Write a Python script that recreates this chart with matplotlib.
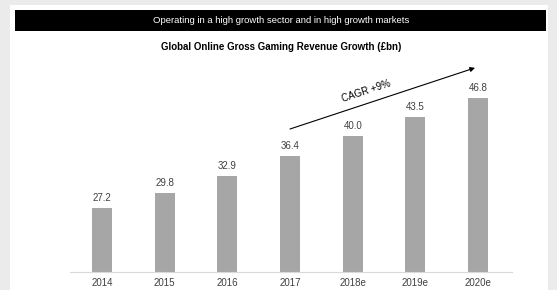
import matplotlib.pyplot as plt
from matplotlib.patches import Rectangle

plt.rcParams['font.family'] = ['Liberation Sans', 'DejaVu Sans']

# revenue (GBP bn) per year, e = estimate
years = ['2014', '2015', '2016', '2017', '2018e', '2019e', '2020e']
revenue = [27.2, 29.8, 32.9, 36.4, 40.0, 43.5, 46.8]
labels = ['27.2', '29.8', '32.9', '36.4', '40.0', '43.5', '46.8']

fig = plt.figure(figsize=(5.57, 2.9), dpi=100)
fig.patch.set_facecolor('#ebebeb')

# white panel and black header band
fig.patches.append(Rectangle((10 / 557, 0), 538 / 557, 285 / 290,
                             transform=fig.transFigure, facecolor='white',
                             edgecolor='none', zorder=-2))
fig.patches.append(Rectangle((15 / 557, 1 - 31 / 290), 531 / 557, 21 / 290,
                             transform=fig.transFigure, facecolor='black',
                             edgecolor='none', zorder=-1))
fig.text(281 / 557, 1 - 20.5 / 290, 'Operating in a high growth sector and in high growth markets',
         color='white', fontsize=6.8, ha='center', va='center')
fig.text(281 / 557, 1 - 47 / 290, 'Global Online Gross Gaming Revenue Growth (£bn)',
         color='black', fontsize=7.0, fontweight='bold', ha='center', va='center')

ax = fig.add_axes([70 / 557, 1 - 272 / 290, 442 / 557, 212 / 290])
ax.set_facecolor('none')
x = list(range(len(years)))
ax.bar(x, revenue, width=0.32, color='#a6a6a6', zorder=2)
for xi, v, lab in zip(x, revenue, labels):
    ax.text(xi, v + 0.9, lab, ha='center', va='bottom', fontsize=7, color='#404040')

ax.set_xlim(-0.51, 6.54)
ax.set_ylim(15.8, 53.6)
ax.set_xticks(x)
ax.set_xticklabels(years, fontsize=7, color='#404040')
ax.tick_params(axis='x', length=0, pad=4)
ax.set_yticks([])
for s in ['top', 'right', 'left']:
    ax.spines[s].set_visible(False)
ax.spines['bottom'].set_color('#d9d9d9')
ax.spines['bottom'].set_linewidth(0.8)

# CAGR arrow
ax.annotate('', xy=(5.95, 52.2), xytext=(3.0, 41.3),
            arrowprops=dict(arrowstyle='-|>', color='black', lw=0.8,
                            mutation_scale=7, shrinkA=0, shrinkB=0))
ax.text(4.21, 48.0, 'CAGR +9%', rotation=18.3, ha='center', va='center',
        fontsize=7, color='black', rotation_mode='anchor')

fig.savefig('out.png', dpi=100)
